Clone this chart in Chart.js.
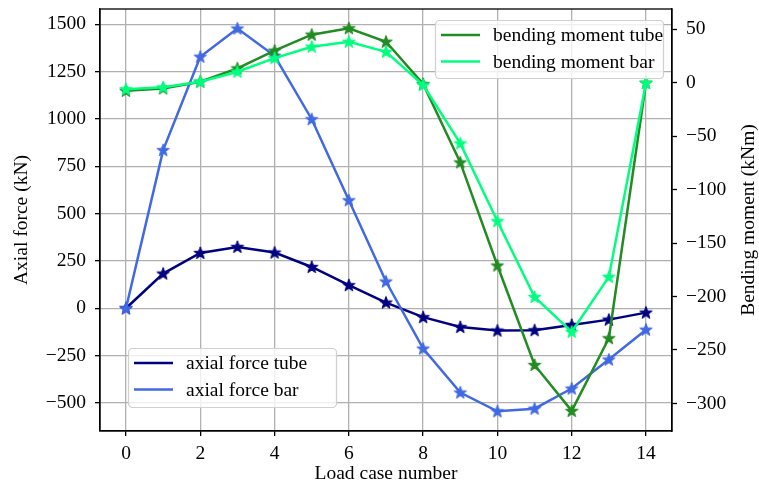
<!DOCTYPE html>
<html>
<head>
<meta charset="utf-8">
<script src="https://cdn.jsdelivr.net/npm/chart.js@4"></script>
<style>
  body { margin: 0; background: #fff; }
  #wrap { width: 759px; height: 486px; }
</style>
</head>
<body>
<div id="wrap"><canvas id="grafico"></canvas></div>
<script>

// load cases and results
const loadCases = [0, 1, 2, 3, 4, 5, 6, 7, 8, 9, 10, 11, 12, 13, 14];
const axialTube = [0, 183, 292, 324, 294, 218, 122, 30, -47, -99, -118, -116, -88, -60, -23];
const axialBar = [0, 835, 1328, 1477, 1333, 998, 570, 141, -213, -445, -544, -530, -424, -271, -113];
const momentTube = [-7.5, -5.3, 1, 13.5, 30, 45, 51, 38.4, -1.2, -74.5, -171, -264, -307, -239, 0];
const momentBar = [-6, -4.3, 1, 10.3, 23, 33.7, 38.4, 29, -2.2, -56.7, -129.5, -200.4, -233, -181.6, 0];

// tick values
const loadCaseTicks = [0, 2, 4, 6, 8, 10, 12, 14];
const axialTicks = [-500, -250, 0, 250, 500, 750, 1000, 1250, 1500];
const momentTicks = [-300, -250, -200, -150, -100, -50, 0, 50];

const serif = "'Liberation Serif', 'Times New Roman', serif";
const fontSize = 19.5;

function estrela(cor) {
    const c = document.createElement('canvas');
    c.width = 16; c.height = 16;
    const g = c.getContext('2d');
    g.beginPath();
    for (let i = 0; i < 10; i++) {
        const r = i % 2 === 0 ? 6.6 : 2.7;
        const a = -Math.PI / 2 + i * Math.PI / 5;
        const px = 8 + r * Math.cos(a), py = 8.4 + r * Math.sin(a);
        if (i === 0) g.moveTo(px, py); else g.lineTo(px, py);
    }
    g.closePath();
    g.fillStyle = cor;
    g.fill();
    g.strokeStyle = cor;
    g.lineWidth = 1;
    g.lineJoin = 'round';
    g.stroke();
    return c;
}

function serie(label, valores, cor, eixo, ordem) {
    return {
        label: label,
        data: loadCases.map((x, i) => ({ x: x, y: valores[i] })),
        borderColor: cor,
        backgroundColor: cor,
        borderWidth: 2.5,
        pointStyle: estrela(cor),
        yAxisID: eixo,
        order: ordem,
        tension: 0,
    };
}

function menos(v) {
    return String(v).replace('-', '\u2212');
}

function semFolga(s) {
    s.paddingTop = 0;
    s.paddingBottom = 0;
}

// matplotlib-like frame, right axis title and the two legend boxes
const molduraELegendas = {
    id: 'molduraELegendas',
    afterDatasetsDraw(chart) {
        const ctx = chart.ctx;
        const ca = chart.chartArea;
        ctx.save();
        ctx.strokeStyle = '#000';
        ctx.lineWidth = 1.3;
        ctx.strokeRect(ca.left, ca.top, ca.right - ca.left, ca.bottom - ca.top);

        ctx.save();
        ctx.translate(749, (ca.top + ca.bottom) / 2);
        ctx.rotate(-Math.PI / 2);
        ctx.font = fontSize + 'px ' + serif;
        ctx.fillStyle = '#000';
        ctx.textAlign = 'center';
        ctx.textBaseline = 'middle';
        ctx.fillText('Bending moment (kNm)', 0, 0);
        ctx.restore();

        const ds = chart.data.datasets;
        const caixa = (x, y, w, h, itens) => {
            ctx.beginPath();
            ctx.roundRect(x + 0.5, y + 0.5, w, h, 4);
            ctx.fillStyle = 'rgba(255,255,255,0.8)';
            ctx.fill();
            ctx.strokeStyle = '#d0d0d0';
            ctx.lineWidth = 1.2;
            ctx.stroke();
            ctx.font = fontSize + 'px ' + serif;
            ctx.textBaseline = 'middle';
            ctx.textAlign = 'left';
            itens.forEach((d, i) => {
                const ly = y + 15 + i * 26.5;
                ctx.beginPath();
                ctx.moveTo(x + 6, ly);
                ctx.lineTo(x + 45, ly);
                ctx.strokeStyle = d.borderColor;
                ctx.lineWidth = 2.5;
                ctx.stroke();
                ctx.fillStyle = '#000';
                ctx.fillText(d.label, x + 58, ly + 1);
            });
        };
        caixa(ca.right - 237, ca.top + 11, 228, 58, [ds[2], ds[3]]);
        caixa(ca.left + 28, ca.bottom - 83, 208, 59, [ds[0], ds[1]]);
        ctx.restore();
    }
};

const graf = document.getElementById('grafico');

new Chart(graf, {
    type: 'line',
    data: {
        datasets: [
            serie('axial force tube', axialTube, '#000080', 'yAxial', 3),
            serie('axial force bar', axialBar, '#4169e1', 'yAxial', 2),
            serie('bending moment tube', momentTube, '#228b22', 'yMoment', 1),
            serie('bending moment bar', momentBar, '#00ff7f', 'yMoment', 0),
        ],
    },
    options: {
        responsive: true,
        maintainAspectRatio: false,
        animation: false,
        layout: { padding: { top: 9, left: 0, right: 0, bottom: 0 } },
        plugins: {
            legend: { display: false },
            tooltip: { enabled: false },
        },
        scales: {
            x: {
                type: 'linear',
                min: -0.7,
                max: 14.7,
                afterFit: s => { s.height = 55; s.paddingLeft = 0; s.paddingRight = 0; },
                afterBuildTicks: s => { s.ticks = loadCaseTicks.map(v => ({ value: v })); },
                ticks: {
                    color: '#000',
                    padding: 6,
                    maxRotation: 0,
                    font: { family: serif, size: fontSize },
                },
                grid: { color: '#b0b0b0', lineWidth: 1.3, tickColor: '#000', tickLength: 5, tickWidth: 1.3 },
                border: { color: '#000', width: 1.3 },
                title: {
                    display: true,
                    text: 'Load case number',
                    color: '#000',
                    padding: { bottom: 0 },
                    font: { family: serif, size: fontSize },
                },
            },
            yAxial: {
                type: 'linear',
                position: 'left',
                min: -648,
                max: 1580,
                afterFit: s => { s.width = 100; semFolga(s); },
                afterBuildTicks: s => { s.ticks = axialTicks.map(v => ({ value: v })); },
                ticks: {
                    color: '#000',
                    padding: 9,
                    callback: v => menos(v),
                    font: { family: serif, size: fontSize },
                },
                grid: { color: '#b0b0b0', lineWidth: 1.3, tickColor: '#000', tickLength: 5, tickWidth: 1.3 },
                border: { color: '#000', width: 1.3 },
                title: {
                    display: true,
                    text: 'Axial force (kN)',
                    color: '#000',
                    padding: { top: 10 },
                    font: { family: serif, size: fontSize },
                },
            },
            yMoment: {
                type: 'linear',
                position: 'right',
                min: -325.8,
                max: 69,
                afterFit: s => { s.width = 87; semFolga(s); },
                afterBuildTicks: s => { s.ticks = momentTicks.map(v => ({ value: v })); },
                ticks: {
                    color: '#000',
                    padding: 9,
                    callback: v => menos(v),
                    font: { family: serif, size: fontSize },
                },
                grid: { drawOnChartArea: false, tickColor: '#000', tickLength: 5, tickWidth: 1.3 },
                border: { color: '#000', width: 1.3 },
            },
        },
    },
    plugins: [molduraELegendas],
});
</script>
</body>
</html>
